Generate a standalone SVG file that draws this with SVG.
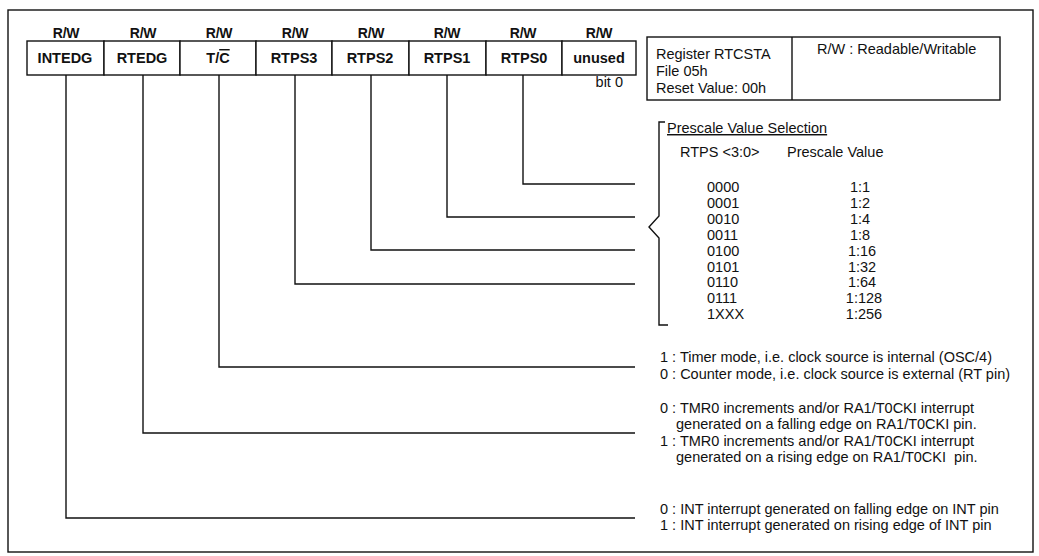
<svg xmlns="http://www.w3.org/2000/svg" width="1039" height="556" viewBox="0 0 1039 556">
<style>
  text { font-family: "Liberation Sans", Arial, sans-serif; fill: #111; }
  .rw { font-size: 14px; font-weight: bold; text-anchor: middle; letter-spacing: -0.3px; }
  .lbl { font-size: 14.5px; font-weight: bold; text-anchor: middle; }
  .t { font-size: 14.5px; }
  .m { text-anchor: middle; }
  .box { fill: #fff; stroke: #111; stroke-width: 1.4; }
  .ln { fill: none; stroke: #111; stroke-width: 1.4; }
</style>
<rect x="8" y="10" width="1025" height="542" fill="#fff" stroke="#111" stroke-width="1.4"/>

<g id="bit7">
  <text class="rw" x="66" y="38">R/W</text>
  <rect class="box" x="27" y="41" width="77" height="34"/>
  <text class="lbl" x="65" y="63">INTEDG</text>
</g>
<g id="bit6">
  <text class="rw" x="143" y="38">R/W</text>
  <rect class="box" x="104" y="41" width="76" height="34"/>
  <text class="lbl" x="142" y="63">RTEDG</text>
</g>
<g id="bit5">
  <text class="rw" x="219" y="38">R/W</text>
  <rect class="box" x="180" y="41" width="76" height="34"/>
  <text class="lbl" x="218" y="63">T/<tspan text-decoration="overline">C</tspan></text>
</g>
<g id="bit4">
  <text class="rw" x="295" y="38">R/W</text>
  <rect class="box" x="256" y="41" width="76" height="34"/>
  <text class="lbl" x="294" y="63">RTPS3</text>
</g>
<g id="bit3">
  <text class="rw" x="371" y="38">R/W</text>
  <rect class="box" x="332" y="41" width="77" height="34"/>
  <text class="lbl" x="370" y="63">RTPS2</text>
</g>
<g id="bit2">
  <text class="rw" x="447" y="38">R/W</text>
  <rect class="box" x="409" y="41" width="77" height="34"/>
  <text class="lbl" x="447" y="63">RTPS1</text>
</g>
<g id="bit1">
  <text class="rw" x="523" y="38">R/W</text>
  <rect class="box" x="486" y="41" width="76" height="34"/>
  <text class="lbl" x="524" y="63">RTPS0</text>
</g>
<g id="bit0">
  <text class="rw" x="599" y="38">R/W</text>
  <rect class="box" x="562" y="41" width="74" height="34"/>
  <text class="lbl" x="599" y="63">unused</text>
  <text class="t" x="623" y="87" text-anchor="end">bit 0</text>
</g>

<g id="register-info">
  <rect class="box" x="647" y="37" width="353" height="63"/>
  <line class="ln" x1="792" y1="37" x2="792" y2="100"/>
  <text class="t" x="656" y="59">Register RTCSTA</text>
  <text class="t" x="656" y="76">File 05h</text>
  <text class="t" x="656" y="93">Reset Value: 00h</text>
  <text class="t" x="817" y="54">R/W : Readable/Writable</text>
</g>

<g id="prescale-table">
  <path class="ln" d="M665,122 H659 V216 L649,227 L659,238 V325 H668"/>
  <text class="t" x="667" y="133" text-decoration="underline">Prescale Value Selection</text>
  <text class="t" x="680" y="157">RTPS &lt;3:0&gt;</text>
  <text class="t" x="787" y="157">Prescale Value</text>
  <g>
    <text class="t" x="707" y="192">0000</text>
    <text class="t" x="707" y="208">0001</text>
    <text class="t" x="707" y="224">0010</text>
    <text class="t" x="707" y="240">0011</text>
    <text class="t" x="707" y="256">0100</text>
    <text class="t" x="707" y="272">0101</text>
    <text class="t" x="707" y="287">0110</text>
    <text class="t" x="707" y="303">0111</text>
    <text class="t" x="707" y="319">1XXX</text>
  </g>
  <g>
    <text class="t m" x="860" y="192">1:1</text>
    <text class="t m" x="860" y="208">1:2</text>
    <text class="t m" x="860" y="224">1:4</text>
    <text class="t m" x="860" y="240">1:8</text>
    <text class="t m" x="862" y="256">1:16</text>
    <text class="t m" x="862" y="272">1:32</text>
    <text class="t m" x="862" y="287">1:64</text>
    <text class="t m" x="864" y="303">1:128</text>
    <text class="t m" x="864" y="319">1:256</text>
  </g>
</g>

<g id="tc-desc">
  <text class="t" x="660" y="362">1 : Timer mode, i.e. clock source is internal (OSC/4)</text>
  <text class="t" x="660" y="379">0 : Counter mode, i.e. clock source is external (RT pin)</text>
</g>
<g id="rtedg-desc">
  <text class="t" x="660" y="413">0 : TMR0 increments and/or RA1/T0CKI interrupt</text>
  <text class="t" x="676" y="429">generated on a falling edge on RA1/T0CKI pin.</text>
  <text class="t" x="660" y="446">1 : TMR0 increments and/or RA1/T0CKI interrupt</text>
  <text class="t" x="676" y="462" xml:space="preserve">generated on a rising edge on RA1/T0CKI  pin.</text>
</g>
<g id="intedg-desc">
  <text class="t" x="660" y="514">0 : INT interrupt generated on falling edge on INT pin</text>
  <text class="t" x="660" y="530">1 : INT interrupt generated on rising edge of INT pin</text>
</g>

<g id="connectors">
  <polyline class="ln" points="523,75 523,184 635,184"/>
  <polyline class="ln" points="447,75 447,217 635,217"/>
  <polyline class="ln" points="371,75 371,250 635,250"/>
  <polyline class="ln" points="295,75 295,284 635,284"/>
  <polyline class="ln" points="219,75 219,367 635,367"/>
  <polyline class="ln" points="143,75 143,433 635,433"/>
  <polyline class="ln" points="66,75 66,518 635,518"/>
</g>
</svg>
